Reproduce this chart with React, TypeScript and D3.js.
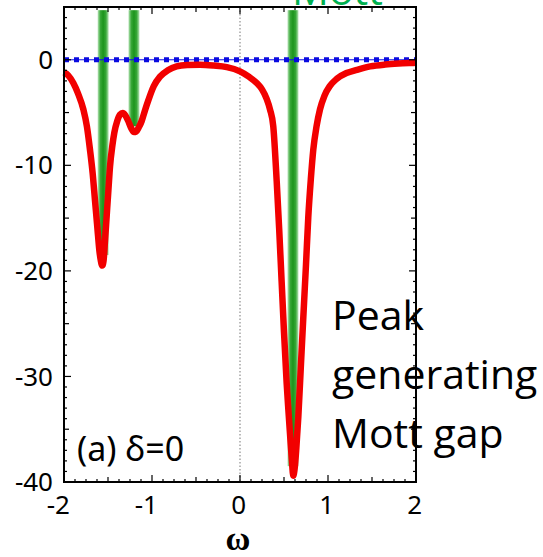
import * as d3 from "d3";
import { useEffect, useRef } from "react";

// red curve (omega, value)
const omega = [-2.0, -1.95, -1.894, -1.84, -1.78, -1.74, -1.705, -1.675, -1.648, -1.62, -1.599, -1.58, -1.565, -1.55, -1.535, -1.515, -1.495, -1.477, -1.45, -1.428, -1.395, -1.364, -1.333, -1.30, -1.27, -1.235, -1.205, -1.18, -1.15, -1.117, -1.08, -1.04, -0.98, -0.909, -0.82, -0.72, -0.6, -0.455, -0.3, -0.15, 0.0, 0.1, 0.19, 0.25, 0.303, 0.341, 0.378, 0.417, 0.445, 0.473, 0.5, 0.53, 0.55, 0.568, 0.59, 0.605, 0.62, 0.64, 0.663, 0.69, 0.72, 0.75, 0.776, 0.805, 0.833, 0.87, 0.909, 0.96, 1.02, 1.1, 1.21, 1.33, 1.48, 1.65, 1.8, 1.97, 2.0];
const spectrum = [-1.2, -1.5, -2.2, -3.2, -4.7, -6.3, -8.5, -10.7, -13.3, -16.0, -18.0, -19.1, -19.5, -19.0, -17.3, -14.8, -12.3, -10.1, -8.1, -6.9, -5.8, -5.2, -5.05, -5.3, -5.8, -6.5, -6.85, -6.8, -6.4, -5.8, -4.8, -3.8, -2.5, -1.6, -1.0, -0.63, -0.5, -0.47, -0.55, -0.7, -1.1, -1.6, -2.2, -2.8, -3.7, -4.7, -6.3, -11.5, -16.0, -21.0, -25.8, -30.6, -33.2, -35.4, -38.0, -39.4, -38.8, -36.8, -33.8, -29.3, -24.3, -19.4, -14.9, -11.3, -8.5, -6.3, -4.7, -3.4, -2.5, -1.8, -1.26, -0.95, -0.63, -0.45, -0.36, -0.3, -0.29];

// green marker stripes: position and how far down they reach
const stripeOmega = [-1.555, -1.205, 0.602];
const stripeBottom = [-18.5, -6.3, -38.5];
const stripeTop = 4.7;

const xTicks = [-2, -1, 0, 1, 2];
const yTicks = [0, -10, -20, -30, -40];
const annotation = ["Peak", "generating", "Mott gap"];

const W = 543;
const H = 557;
const margin = { left: 64, right: 127, top: 7, bottom: 75 };

export default function App() {
  const ref = useRef<SVGSVGElement>(null);

  useEffect(() => {
    const svg = d3.select(ref.current);
    svg.selectAll("*").remove();

    const x = d3.scaleLinear().domain([-2, 2]).range([margin.left, W - margin.right]);
    const y = d3.scaleLinear().domain([-40, 5]).range([H - margin.bottom, margin.top]);
    const [x0, x1] = x.range();
    const [y0, y1] = y.range();

    const defs = svg.append("defs");
    const grad = defs.append("linearGradient").attr("id", "stripe").attr("x1", "0").attr("x2", "1").attr("y1", "0").attr("y2", "0");
    grad.append("stop").attr("offset", "0%").attr("stop-color", "#b8e4b8");
    grad.append("stop").attr("offset", "25%").attr("stop-color", "#38a838");
    grad.append("stop").attr("offset", "50%").attr("stop-color", "#1c941c");
    grad.append("stop").attr("offset", "75%").attr("stop-color", "#38a838");
    grad.append("stop").attr("offset", "100%").attr("stop-color", "#b8e4b8");

    // zero line of omega
    svg.append("line")
      .attr("x1", x(0)).attr("x2", x(0)).attr("y1", y1).attr("y2", y0)
      .attr("stroke", "#777").attr("stroke-width", 1).attr("stroke-dasharray", "1.5 2");

    // green stripes
    svg.selectAll(".stripe")
      .data(stripeOmega)
      .enter()
      .append("rect")
      .attr("x", d => x(d) - 5.5)
      .attr("width", 11)
      .attr("y", y(stripeTop))
      .attr("height", (d, i) => y(stripeBottom[i]) - y(stripeTop))
      .attr("fill", "url(#stripe)");

    // dashed blue reference
    svg.append("line")
      .attr("x1", x0).attr("x2", x1).attr("y1", y(0)).attr("y2", y(0))
      .attr("stroke", "#1010e8").attr("stroke-width", 1);
    svg.append("line")
      .attr("x1", x0).attr("x2", x1).attr("y1", y(0)).attr("y2", y(0))
      .attr("stroke", "#0a0ae0").attr("stroke-width", 5).attr("stroke-dasharray", "5 5");

    const pts = omega.map((w, i) => [w, spectrum[i]] as [number, number]);
    const line = d3.line<[number, number]>()
      .x(d => x(d[0]))
      .y(d => y(d[1]))
      .curve(d3.curveMonotoneX);
    svg.append("path")
      .attr("d", line(pts))
      .attr("fill", "none")
      .attr("stroke", "#f20000")
      .attr("stroke-width", 6.5)
      .attr("stroke-linejoin", "round");

    // frame
    svg.append("rect")
      .attr("x", x0).attr("y", y1).attr("width", x1 - x0).attr("height", y0 - y1)
      .attr("fill", "none").attr("stroke", "#000").attr("stroke-width", 2);

    // inward ticks on every side
    const tk = svg.append("g").attr("stroke", "#000").attr("stroke-width", 1.2);
    d3.range(-2, 2.001, 0.125).forEach(v => {
      const len = Math.abs(v - Math.round(v)) < 1e-6 ? 7 : Math.abs(v * 2 - Math.round(v * 2)) < 1e-6 ? 5 : 3;
      tk.append("line").attr("x1", x(v)).attr("x2", x(v)).attr("y1", y0).attr("y2", y0 - len);
      tk.append("line").attr("x1", x(v)).attr("x2", x(v)).attr("y1", y1).attr("y2", y1 + len);
    });
    d3.range(-40, 5.001, 1).forEach(v => {
      const len = v % 10 === 0 ? 7 : v % 5 === 0 ? 5 : 3;
      tk.append("line").attr("x1", x0).attr("x2", x0 + len).attr("y1", y(v)).attr("y2", y(v));
      tk.append("line").attr("x1", x1).attr("x2", x1 - len).attr("y1", y(v)).attr("y2", y(v));
    });

    const font = "'Noto Sans', 'Open Sans', sans-serif";
    svg.selectAll(".xl")
      .data(xTicks)
      .enter()
      .append("text")
      .attr("x", d => x(d) + 6)
      .attr("y", y0 + 32)
      .attr("text-anchor", "end")
      .attr("font-family", font)
      .attr("font-size", 26)
      .text(d => (d < 0 ? "-" + Math.abs(d) : String(d)));
    svg.selectAll(".yl")
      .data(yTicks)
      .enter()
      .append("text")
      .attr("x", x0 - 11)
      .attr("y", d => y(d))
      .attr("dy", "0.35em")
      .attr("text-anchor", "end")
      .attr("font-family", font)
      .attr("font-size", 26)
      .text(d => (d < 0 ? "-" + Math.abs(d) : String(d)));

    svg.append("text")
      .attr("x", x(0) - 2)
      .attr("y", 550)
      .attr("text-anchor", "middle")
      .attr("font-family", "'Liberation Serif', serif")
      .attr("font-weight", "bold")
      .attr("font-size", 34)
      .text("ω");

    svg.append("text")
      .attr("x", 77)
      .attr("y", 461)
      .attr("font-family", font)
      .attr("font-size", 34)
      .text("(a) δ=0");

    svg.append("text")
      .attr("x", 292)
      .attr("y", 5)
      .attr("fill", "#00b050")
      .attr("font-family", "'Open Sans', sans-serif")
      .attr("font-size", 41)
      .text("Mott");

    svg.selectAll(".ann")
      .data(annotation)
      .enter()
      .append("text")
      .attr("x", 332)
      .attr("y", (d, i) => 330 + i * 59)
      .attr("font-family", "'Open Sans', sans-serif")
      .attr("font-size", 41)
      .attr("fill", "#000")
      .text(d => d);
  }, []);

  return (
    <svg
      ref={ref}
      width={W}
      height={H}
      style={{ position: "absolute", left: 0, top: 0, background: "#fff" }}
    />
  );
}
